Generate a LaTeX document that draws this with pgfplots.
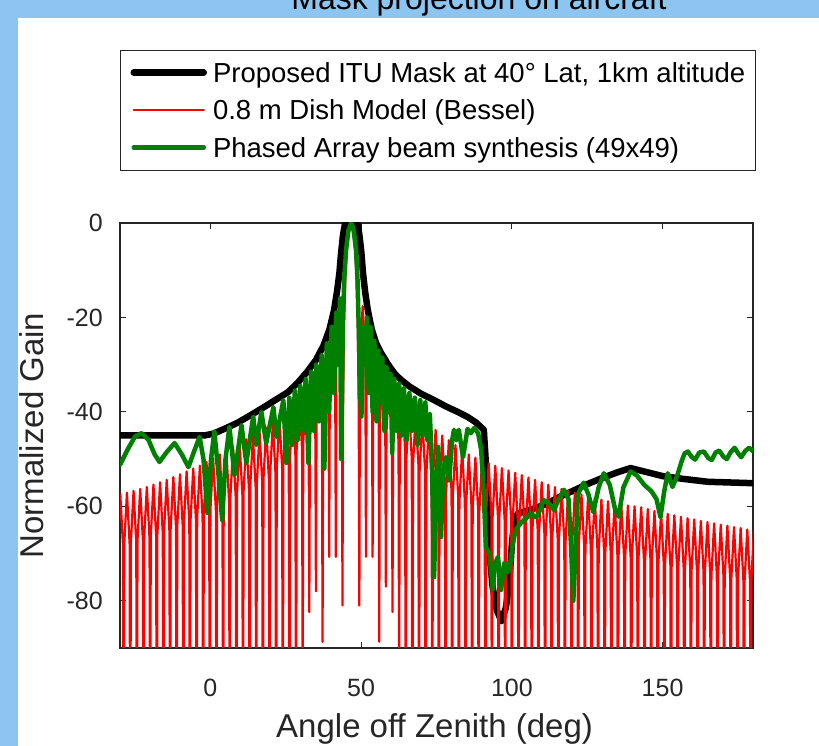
\documentclass[border=0pt]{standalone}
\usepackage{pgfplots}
\pgfplotsset{compat=1.18}
\usepackage{fontspec}
\setmainfont{Liberation Sans}
\definecolor{mgreen}{rgb}{0,0.5,0}
\definecolor{slideblue}{RGB}{140,198,240}
\definecolor{axgray}{RGB}{38,38,38}
\begin{document}
\begin{tikzpicture}
\path[use as bounding box] (0pt,0pt) rectangle (819pt,746pt);
\fill[slideblue] (0pt,0pt) rectangle (819pt,746pt);
\fill[white] (18pt,0pt) rectangle (819pt,728pt);
\node[anchor=base, font=\fontsize{32}{38}\selectfont] at (479pt,736pt) {Mask projection on aircraft};
\begin{axis}[
  at={(120pt,98pt)}, anchor=south west,
  scale only axis, width=633pt, height=425pt,
  xmin=-30, xmax=180, ymin=-90, ymax=0,
  xtick={0,50,100,150}, ytick={-80,-60,-40,-20,0},
  tick align=inside, major tick length=6pt,
  tick style={axgray, line width=0.9pt},
  axis line style={axgray, line width=1.1pt},
  /pgf/number format/assume math mode=true,
  tick label style={font=\fontsize{25}{30}\selectfont, text=axgray},
  xticklabel style={anchor=base, yshift=-49pt},
  yticklabel style={anchor=east, inner sep=0pt, xshift=-17pt},
  xlabel={Angle off Zenith (deg)}, ylabel={Normalized Gain},
  label style={font=\fontsize{33}{38}\selectfont, text=axgray},
  xlabel style={at={(axis description cs:0.497,0)}, anchor=base, yshift=-90pt},
  ylabel style={at={(axis description cs:-0.139,0.5)}, anchor=center},
  legend cell align=left,
  legend style={
    at={(rel axis cs:0,1)}, anchor=north west, yshift=173pt,
    draw=axgray, line width=1pt, fill=white,
    inner xsep=10pt, inner ysep=3.75pt,
    column sep=6pt, row sep=0pt,
    font=\fontsize{27.5}{33}\selectfont,
    nodes={inner xsep=0pt, inner ysep=0pt, text height=28.25pt, text depth=9.25pt},
    cells={anchor=base west},
  },
  legend image code/.code={\draw[#1] (0pt,10pt) -- (70pt,10pt);},
  every axis plot/.append style={line join=round, line cap=round},
]
\addplot[black, line width=6.5pt] coordinates {
(-30,-45) (-2,-45) (1,-44.6) (5,-43.5) (9,-42.3) (13.6,-40.6) (18,-38.9) (22,-37.3) (25.8,-35.8) (29,-33.8) (32,-31.6) (35,-29) (37.5,-26) (39.5,-22.5) (41,-18.5) (42,-14.5) (42.8,-10.5) (43.4,-6) (44,-2.5) (44.6,-0.3) (45,0) (48.5,0) (48.9,-0.3) (49.4,-2.5) (50,-5.7) (50.6,-10.5) (51.3,-14.5) (52.2,-18.4) (53.5,-22.5) (55,-25.5) (56.6,-27.5) (59,-30) (61,-31.8) (63.2,-33.2) (66,-34.6) (70,-36.2) (74.2,-37.5) (78,-38.8) (82,-40) (85.4,-41.1) (88,-42.2) (90.7,-43.8) (91.3,-50) (91.8,-60) (92.6,-70) (93.6,-77) (95,-82) (96.5,-84.3) (98,-81.5) (99.2,-76) (100,-68) (100.8,-63) (102,-61.5) (106,-60.8) (111,-59.6) (116.5,-57.8) (120,-56.8) (125,-55.3) (130,-54) (135,-52.8) (139.4,-51.9) (145,-52.8) (150,-53.6) (157,-54.2) (165,-54.8) (180,-55.1)
};
\addlegendentry{Proposed ITU Mask at 40° Lat, 1km altitude}
\addplot[red, line width=2.2pt] coordinates {
(-31,-130)
(-30.8,-68.4) (-29.9,-57.4) (-29,-68.4) (-28.8,-130)
(-28.6,-68.1) (-27.7,-57.1) (-26.8,-68.1) (-26.6,-130)
(-26.4,-67.7) (-25.5,-56.7) (-24.6,-67.7) (-24.4,-130)
(-24.2,-67.3) (-23.3,-56.3) (-22.4,-67.3) (-22.2,-130)
(-22,-66.9) (-21.1,-55.9) (-20.2,-66.9) (-20,-130)
(-19.8,-66.4) (-18.9,-55.4) (-18,-66.4) (-17.8,-130)
(-17.6,-65.9) (-16.7,-54.9) (-15.8,-65.9) (-15.6,-130)
(-15.4,-65.4) (-14.5,-54.4) (-13.6,-65.4) (-13.4,-130)
(-13.2,-64.8) (-12.3,-53.8) (-11.4,-64.8) (-11.2,-130)
(-11,-64.2) (-10.1,-53.2) (-9.2,-64.2) (-9,-130)
(-8.8,-63.6) (-7.9,-52.6) (-7,-63.6) (-6.8,-130)
(-6.6,-63) (-5.7,-52) (-4.8,-63) (-4.6,-130)
(-4.4,-62.4) (-3.5,-51.4) (-2.6,-62.4) (-2.4,-130)
(-2.2,-61.6) (-1.3,-50.6) (-0.4,-61.6) (-0.2,-130)
(0,-60.8) (0.9,-49.8) (1.8,-60.8) (2,-130)
(2.2,-60) (3.1,-49) (4,-60) (4.2,-130)
(4.4,-59.2) (5.3,-48.2) (6.2,-59.2) (6.4,-130)
(6.6,-58.4) (7.5,-47.4) (8.4,-58.4) (8.6,-130)
(8.8,-57.6) (9.7,-46.6) (10.6,-57.6) (10.8,-130)
(11,-56.8) (11.9,-45.8) (12.8,-56.8) (13,-130)
(13.2,-56) (14.1,-45) (15,-56) (15.2,-130)
(15.4,-55.2) (16.3,-44.2) (17.2,-55.2) (17.4,-130)
(17.6,-54.3) (18.5,-43.3) (19.4,-54.3) (19.6,-130)
(19.8,-53.3) (20.7,-42.3) (21.6,-53.3) (21.8,-130)
(22,-52.2) (22.9,-41.2) (23.8,-52.2) (24,-130)
(24.2,-51) (25.1,-40) (26,-51) (26.2,-130)
(26.4,-49.5) (27.3,-38.5) (28.2,-49.5) (28.4,-130)
(28.6,-48) (29.5,-37) (30.4,-48) (30.6,-100)
(30.8,-46.4) (31.7,-35.4) (32.6,-46.4) (32.8,-82.4)
(33,-44.4) (33.9,-33.4) (34.8,-44.4) (35,-78)
(35.2,-42) (36.1,-31) (37,-42) (37.2,-88.7)
(37.4,-39) (38.3,-28) (39.2,-39) (39.4,-70.7)
(39.6,-34.8) (40.5,-23.8) (41.4,-34.8) (41.6,-70.7)
(41.8,-28.6) (42.7,-17.6) (43.6,-28.6) (43.8,-81)
(44,-40) (44.3,-22) (44.8,-10) (45.5,-3) (46.6,0) (47.7,-3) (48.4,-10) (48.9,-22) (49.2,-40) (49.4,-81)
(49.6,-28.6) (50.5,-17.6) (51.4,-28.6) (51.6,-70.7)
(51.8,-34.8) (52.7,-23.8) (53.6,-34.8) (53.8,-70.7)
(54,-39) (54.9,-28) (55.8,-39) (56,-88.7)
(56.2,-42) (57.1,-31) (58,-42) (58.2,-77)
(58.4,-44.4) (59.3,-33.4) (60.2,-44.4) (60.4,-82.4)
(60.6,-46.4) (61.5,-35.4) (62.4,-46.4) (62.6,-100)
(62.8,-48.5) (63.7,-37.5) (64.6,-48.5) (64.8,-130)
(65,-50) (65.9,-39) (66.8,-50) (67,-130)
(67.2,-51.3) (68.1,-40.3) (69,-51.3) (69.2,-130)
(69.4,-52.5) (70.3,-41.5) (71.2,-52.5) (71.4,-130)
(71.6,-53.6) (72.5,-42.6) (73.4,-53.6) (73.6,-130)
(73.8,-54.8) (74.7,-43.8) (75.6,-54.8) (75.8,-130)
(76,-56) (76.9,-45) (77.8,-56) (78,-130)
(78.2,-57) (79.1,-46) (80,-57) (80.2,-130)
(80.4,-58) (81.3,-47) (82.2,-58) (82.4,-130)
(82.6,-59) (83.5,-48) (84.4,-59) (84.6,-130)
(84.8,-60) (85.7,-49) (86.6,-60) (86.8,-130)
(87,-60.7) (87.9,-49.7) (88.8,-60.7) (89,-130)
(89.2,-61.3) (90.1,-50.3) (91,-61.3) (91.2,-130)
(91.4,-61.9) (92.3,-50.9) (93.2,-61.9) (93.4,-130)
(93.6,-62.4) (94.5,-51.4) (95.4,-62.4) (95.6,-130)
(95.8,-62.9) (96.7,-51.9) (97.6,-62.9) (97.8,-130)
(98,-63.4) (98.9,-52.4) (99.8,-63.4) (100,-130)
(100.2,-63.9) (101.1,-52.9) (102,-63.9) (102.2,-130)
(102.4,-64.4) (103.3,-53.4) (104.2,-64.4) (104.4,-130)
(104.6,-64.9) (105.5,-53.9) (106.4,-64.9) (106.6,-130)
(106.8,-65.4) (107.7,-54.4) (108.6,-65.4) (108.8,-130)
(109,-65.9) (109.9,-54.9) (110.8,-65.9) (111,-130)
(111.2,-66.4) (112.1,-55.4) (113,-66.4) (113.2,-130)
(113.4,-66.9) (114.3,-55.9) (115.2,-66.9) (115.4,-130)
(115.6,-67.3) (116.5,-56.3) (117.4,-67.3) (117.6,-130)
(117.8,-67.7) (118.7,-56.7) (119.6,-67.7) (119.8,-130)
(120,-68.1) (120.9,-57.1) (121.8,-68.1) (122,-130)
(122.2,-68.5) (123.1,-57.5) (124,-68.5) (124.2,-130)
(124.4,-68.9) (125.3,-57.9) (126.2,-68.9) (126.4,-130)
(126.6,-69.3) (127.5,-58.3) (128.4,-69.3) (128.6,-130)
(128.8,-69.6) (129.7,-58.6) (130.6,-69.6) (130.8,-130)
(131,-69.9) (131.9,-58.9) (132.8,-69.9) (133,-130)
(133.2,-70.2) (134.1,-59.2) (135,-70.2) (135.2,-130)
(135.4,-70.5) (136.3,-59.5) (137.2,-70.5) (137.4,-130)
(137.6,-70.8) (138.5,-59.8) (139.4,-70.8) (139.6,-130)
(139.8,-71) (140.7,-60) (141.6,-71) (141.8,-130)
(142,-71.2) (142.9,-60.2) (143.8,-71.2) (144,-130)
(144.2,-71.6) (145.1,-60.6) (146,-71.6) (146.2,-130)
(146.4,-72) (147.3,-61) (148.2,-72) (148.4,-130)
(148.6,-72.3) (149.5,-61.3) (150.4,-72.3) (150.6,-130)
(150.8,-72.6) (151.7,-61.6) (152.6,-72.6) (152.8,-130)
(153,-72.9) (153.9,-61.9) (154.8,-72.9) (155,-130)
(155.2,-73.2) (156.1,-62.2) (157,-73.2) (157.2,-130)
(157.4,-73.5) (158.3,-62.5) (159.2,-73.5) (159.4,-130)
(159.6,-73.8) (160.5,-62.8) (161.4,-73.8) (161.6,-130)
(161.8,-74.1) (162.7,-63.1) (163.6,-74.1) (163.8,-130)
(164,-74.3) (164.9,-63.3) (165.8,-74.3) (166,-130)
(166.2,-74.6) (167.1,-63.6) (168,-74.6) (168.2,-130)
(168.4,-74.9) (169.3,-63.9) (170.2,-74.9) (170.4,-130)
(170.6,-75.1) (171.5,-64.1) (172.4,-75.1) (172.6,-130)
(172.8,-75.4) (173.7,-64.4) (174.6,-75.4) (174.8,-130)
(175,-75.6) (175.9,-64.6) (176.8,-75.6) (177,-130)
(177.2,-75.9) (178.1,-64.9) (179,-75.9) (179.2,-130)
(179.4,-76.1) (180.3,-65.1) (181.2,-76.1) (181.4,-130)
};
\addlegendentry{0.8 m Dish Model (Bessel)}
\addplot[mgreen, line width=4.5pt] coordinates {
(-30,-51.2) (-27.5,-48) (-25,-45.2) (-22.8,-44.5) (-20.5,-46) (-18.5,-49) (-16.9,-50.6) (-14.5,-48.5) (-11.9,-46.6) (-9.5,-49) (-7.3,-51.7) (-5.5,-48.5) (-3.6,-45.3) (-2.3,-50) (-1,-61.4) (0.2,-50) (1.3,-44.2) (2.5,-52) (3.9,-62.9) (5,-50) (6.3,-43.2) (8,-53.4) (10.3,-42.8) (11.9,-50.8) (14.2,-41) (15.2,-47) (16.9,-40) (18.5,-46.6) (20.9,-39) (21.9,-45.3) (24.2,-37.5) (25.2,-50.8) (26.2,-37) (27.1,-47) (28,-35.5) (28.9,-46) (29.8,-34.5) (30.7,-44) (31.6,-33) (32.5,-50.8) (33.4,-31.5) (34.3,-44) (35.1,-30) (36,-42) (36.9,-28) (37.8,-52) (38.6,-25.5) (39.4,-40) (40.2,-22) (41,-36) (41.7,-19) (42.4,-30) (43,-16) (43.4,-50) (43.9,-22) (44.4,-12) (45,-5.7) (45.8,-1.5) (46.7,0) (47.5,-1.5) (48.3,-5.7) (48.8,-12) (49.2,-22) (49.6,-35) (50.1,-41) (50.7,-22) (51.3,-30) (51.9,-20) (52.5,-36) (53.1,-22) (53.8,-40) (54.4,-25) (55.1,-42) (55.7,-27) (56.4,-38) (57,-28.5) (57.7,-44) (58.4,-30.5) (59.1,-40) (59.8,-32) (60.3,-48.7) (61,-33) (61.8,-44) (62.6,-34) (63.4,-45) (64.2,-35) (65.1,-46) (66,-36) (66.9,-44) (67.8,-37) (68.7,-47) (69.6,-37.5) (70.5,-45) (71.3,-38) (72,-46) (72.8,-40.5) (73.5,-52) (74.2,-75) (75,-55) (75.5,-47.4) (76.5,-66.5) (77.3,-52) (78.1,-49.6) (79.2,-54.5) (80.2,-46) (80.8,-43.8) (81.6,-46) (82.4,-43.8) (83.8,-49.6) (85.3,-43.6) (86.4,-44.5) (87.5,-43.4) (88.8,-44.5) (89.8,-48) (90.5,-55) (91.4,-68.6) (92.5,-70) (93.7,-77.5) (94.5,-72) (95.4,-70.7) (96.4,-77.7) (97.5,-72) (98.7,-74) (99.5,-72) (100.3,-68) (101.2,-65) (103,-63.5) (104.8,-62.5) (106.3,-61.4) (107.5,-62.3) (108.5,-62) (110.6,-58.7) (112.5,-59.5) (114,-60.8) (115.5,-58.5) (117.3,-56.5) (118.8,-58.5) (119.6,-68) (120.4,-80) (121.2,-68) (121.9,-57.5) (123.8,-55) (125.4,-57.5) (127,-61.2) (128.8,-56) (130.5,-53) (132.5,-55.5) (134.2,-60.5) (135.4,-62.2) (137,-56) (139.4,-52.6) (141.5,-53.5) (144,-55.5) (146.3,-56.8) (148,-58.5) (149.3,-62.3) (150.5,-57) (151.7,-53) (153.3,-55.9) (155,-53.2) (156.3,-50.5) (157.3,-48.8) (158.4,-48.4) (159.6,-49.5) (160.8,-50.1) (162.2,-48.6) (163.7,-48.4) (165.2,-49.8) (166.3,-50.2) (167.6,-48.6) (168.8,-48.2) (170.2,-49.5) (171.3,-50) (172.6,-48.5) (173.9,-47.6) (175.1,-48.8) (176.1,-49.6) (177.4,-48.3) (178.7,-47.6) (180,-48.3)
};
\addlegendentry{Phased Array beam synthesis (49x49)}
\end{axis}
\end{tikzpicture}
\end{document}
